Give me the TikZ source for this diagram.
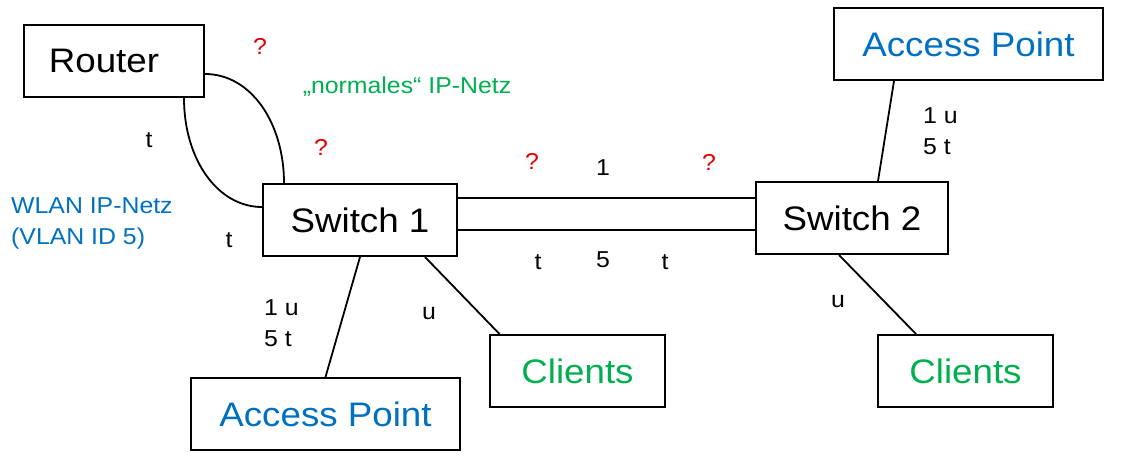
\documentclass[tikz,border=0pt]{standalone}
\usepackage{fontspec}
\setmainfont{Liberation Sans}[FakeStretch=1.08]
\definecolor{apblue}{RGB}{0,112,192}
\definecolor{clgreen}{RGB}{0,176,80}
\definecolor{qred}{RGB}{226,0,0}
\begin{document}
\begin{tikzpicture}[x=1pt,y=-1pt,
  box/.style={draw,line width=2pt,rectangle,inner sep=0pt,minimum height=72pt,font=\fontsize{34}{38}\selectfont},
  lab/.style={inner sep=0pt,font=\fontsize{23}{31}\selectfont,align=left},
  qm/.style={lab,text=qred},
  wire/.style={line width=1.8pt}]
\useasboundingbox (0,0) rectangle (1129,463);
% boxes
\node[box,minimum width=180pt] (router) at (114,61) {\hspace*{-20pt}Router};
\node[box,minimum width=194pt] (s1) at (360,220) {Switch 1};
\node[box,minimum width=192pt] (s2) at (852,218) {Switch 2};
\node[box,minimum width=269pt,text=apblue] (ap2) at (968.5,44) {Access Point};
\node[box,minimum width=269pt,text=apblue] (ap1) at (325.5,414) {Access Point};
\node[box,minimum width=175pt,text=clgreen] (c1) at (577.5,371) {Clients};
\node[box,minimum width=175pt,text=clgreen] (c2) at (965.5,371) {Clients};
% connectors
\draw[wire] ([yshift=-13pt]router.east) .. controls +(46,0) and +(0,-60) .. ([xshift=-76pt]s1.north);
\draw[wire] ([xshift=70pt]router.south) .. controls +(0,62) and +(-44,0) .. ([yshift=13pt]s1.west);
\draw[wire] ([yshift=22pt]s1.east) coordinate (u1) -- (u1 -| s2.west);
\draw[wire] ([yshift=-10pt]s1.east) coordinate (l1) -- (l1 -| s2.west);
\draw[wire] (s1.south) -- (ap1.north);
\draw[wire] ([xshift=65pt]s1.south) -- ([xshift=-78pt]c1.north);
\draw[wire] ([xshift=-74.5pt]ap2.south) -- ([xshift=26pt]s2.north);
\draw[wire] ([xshift=-13pt]s2.south) -- ([xshift=-49.5pt]c2.north);
% labels
\node[qm] (q1) at (260,46) {?};
\node[qm] (q2) at (321,147) {?};
\node[qm] (q3) at (532,161) {?};
\node[qm] (q4) at (709,162) {?};
\node[lab,text=clgreen] (normal) at (407,87) {„normales“ IP-Netz};
\node[lab,text=apblue,anchor=west] (wlan) at (11,223) {WLAN IP-Netz\\(VLAN ID 5)};
\node[lab] (t1) at (149,140) {t};
\node[lab] (t2) at (229,240) {t};
\node[lab] (v1) at (603,168) {1};
\node[lab] (t3) at (538,262) {t};
\node[lab] (v5) at (603,260) {5};
\node[lab] (t4) at (665,262) {t};
\node[lab,anchor=west] (ap1tag) at (264,323) {1 u\\5 t};
\node[lab] (u1l) at (429,314) {u};
\node[lab,anchor=west] (ap2tag) at (923,131) {1 u\\5 t};
\node[lab] (u2l) at (838,302) {u};
\end{tikzpicture}
\end{document}
